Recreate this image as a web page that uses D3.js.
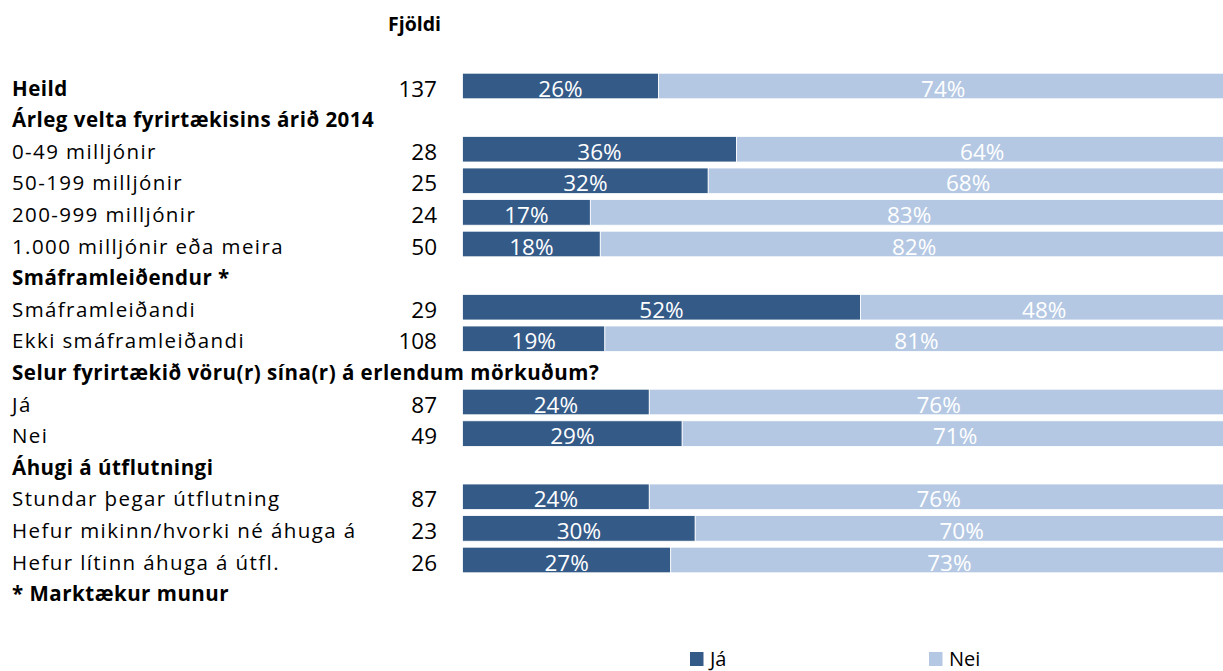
<!DOCTYPE html>
<html>
<head>
<meta charset="utf-8">
<script src="https://cdn.jsdelivr.net/npm/d3@7"></script>
<style>
  body { margin: 0; background: #fff; }
  text { font-family: "Open Sans", "Noto Sans", sans-serif; }
</style>
</head>
<body>
<div id="wrapper"></div>
<script>
// 1. Data
const rowLabels = [
    "Heild",
    "Árleg velta fyrirtækisins árið 2014",
    "0-49 milljónir",
    "50-199 milljónir",
    "200-999 milljónir",
    "1.000 milljónir eða meira",
    "Smáframleiðendur *",
    "Smáframleiðandi",
    "Ekki smáframleiðandi",
    "Selur fyrirtækið vöru(r) sína(r) á erlendum mörkuðum?",
    "Já",
    "Nei",
    "Áhugi á útflutningi",
    "Stundar þegar útflutning",
    "Hefur mikinn/hvorki né áhuga á",
    "Hefur lítinn áhuga á útfl.",
    "* Marktækur munur"
]
const boldRows = [0, 1, 6, 9, 12, 16]
const counts = [137, null, 28, 25, 24, 50, null, 29, 108, null, 87, 49, null, 87, 23, 26, null]
// share answering "Já" (%), "Nei" is the rest
const jaValues = [25.6, null, 35.8, 32.1, 16.7, 18.0, null, 52.0, 18.6, null, 24.4, 28.7, null, 24.4, 30.4, 27.2, null]
const seriesNames = ["Já", "Nei"]

const colors = { "Já": "#345a88", "Nei": "#b4c8e3" }

// 2. Dimensions
const width = 1223
const height = 671

const svg = d3.select("#wrapper")
    .append("svg")
    .attr("width", width)
    .attr("height", height)

// 3. Scales
const rows = d3.range(rowLabels.length)
const yScale = d3.scaleBand()
    .domain(rows)
    .range([70.2, 70.2 + 31.6 * rows.length])
    .paddingInner(0.19)
    .paddingOuter(0.095)

const xScale = d3.scaleLinear()
    .domain([0, 100])
    .range([462.5, 1228])

const stackData = rows.filter(i => jaValues[i] !== null)
    .map(i => ({ row: i, "Já": jaValues[i], "Nei": 100 - jaValues[i] }))
const layers = d3.stack().keys(seriesNames)(stackData)

const rowBase = i => yScale(i) + yScale.bandwidth() / 2 + 9.5

// 4. Bars
const layerGroups = svg.selectAll("g.layer")
    .data(layers)
    .join("g")
    .attr("class", "layer")
    .attr("fill", d => colors[d.key])

layerGroups.selectAll("rect")
    .data(d => d)
    .join("rect")
    .attr("x", d => xScale(d[0]))
    .attr("y", d => yScale(d.data.row))
    .attr("width", d => xScale(d[1]) - xScale(d[0]))
    .attr("height", yScale.bandwidth())
    .attr("stroke", "#ffffff")
    .attr("stroke-width", 0.8)

layerGroups.selectAll("text")
    .data(d => d)
    .join("text")
    .attr("x", d => (xScale(d[0]) + xScale(Math.min(d[1], 100))) / 2)
    .attr("y", d => rowBase(d.data.row) + 1)
    .attr("text-anchor", "middle")
    .attr("fill", "#ffffff")
    .style("font-size", "22.5px")
    .text(d => Math.round(d[1] - d[0]) + "%")

// 5. Row labels and counts
svg.append("g").selectAll("text")
    .data(rows)
    .join("text")
    .attr("x", 12)
    .attr("y", i => rowBase(i))
    .attr("fill", "#000")
    .attr("font-weight", i => boldRows.includes(i) ? "bold" : "normal")
    .style("font-size", "20.5px")
    .style("letter-spacing", i => boldRows.includes(i) ? "0.5px" : "1.4px")
    .text(i => rowLabels[i])

svg.append("g").selectAll("text")
    .data(rows.filter(i => counts[i] !== null))
    .join("text")
    .attr("x", 437)
    .attr("y", i => rowBase(i) + 1)
    .attr("text-anchor", "end")
    .attr("fill", "#000")
    .style("font-size", "22.5px")
    .text(i => counts[i])

svg.append("text")
    .attr("x", 441)
    .attr("y", 31)
    .attr("text-anchor", "end")
    .attr("font-weight", "bold")
    .style("font-size", "19.5px")
    .text("Fjöldi")

// 6. Legend
const legendX = [690, 929]
const legend = svg.append("g").selectAll("g")
    .data(seriesNames)
    .join("g")
    .attr("transform", (d, i) => `translate(${legendX[i]}, 652)`)

legend.append("rect")
    .attr("width", 13.5)
    .attr("height", 14)
    .attr("fill", d => colors[d])

legend.append("text")
    .attr("x", 20)
    .attr("y", 13.5)
    .style("font-size", "20px")
    .attr("fill", "#000")
    .text(d => d)
</script>
</body>
</html>
